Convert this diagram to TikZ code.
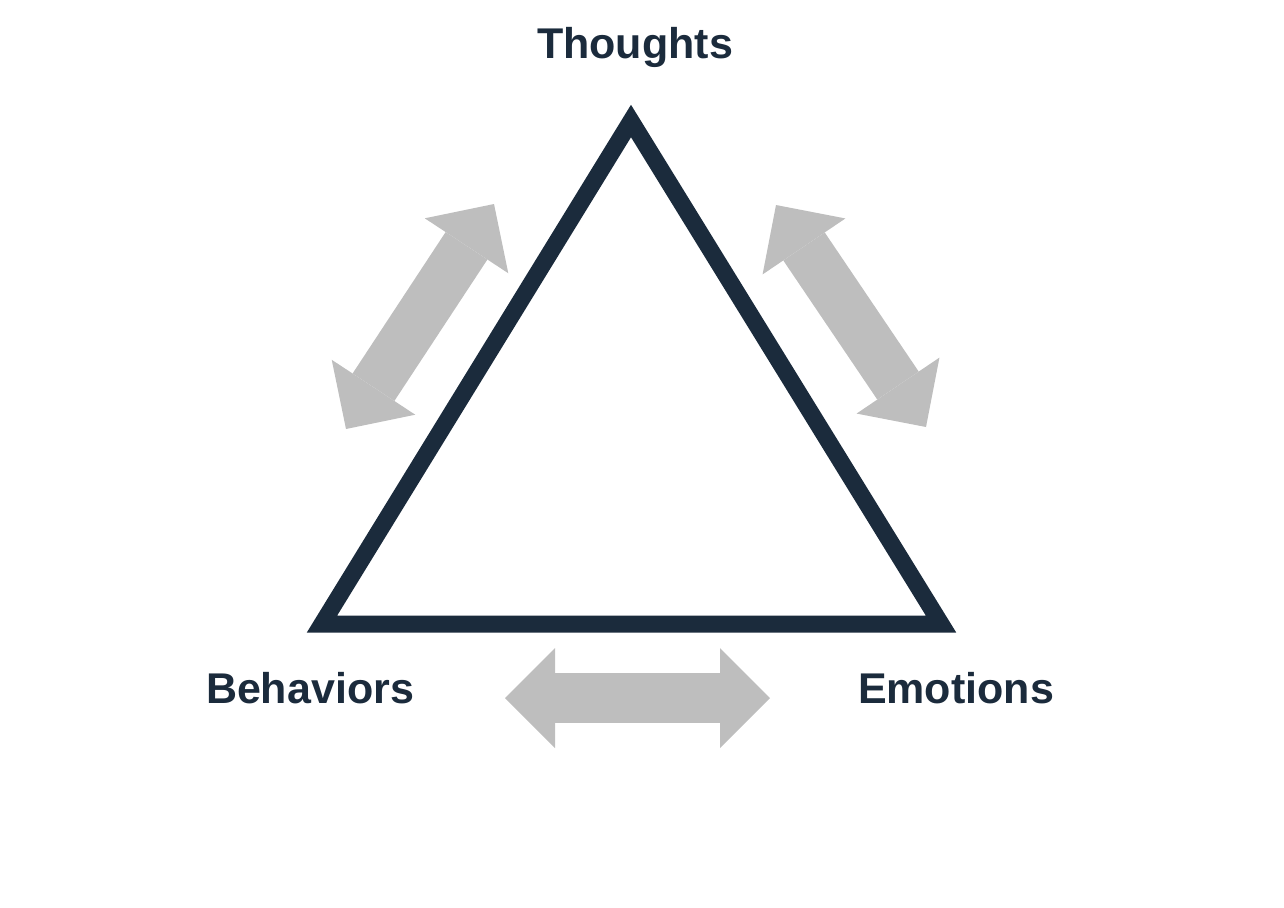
\documentclass[tikz,border=0pt]{standalone}
\usepackage{fontspec}
\setmainfont{Liberation Sans}
\usetikzlibrary{arrows.meta}
\definecolor{navy}{HTML}{1B2B3C}
\definecolor{arrowgray}{HTML}{BEBEBE}
\begin{document}
\begin{tikzpicture} [x = 0.5pt, y = -0.5pt,
	label/.style = {text = navy, font = \fontsize{21.5pt}{24pt}\selectfont\bfseries},
	triangle/.style = {draw = navy, line width = 8.5pt, line join = miter},
	both/.style = {draw = arrowgray, line width = 25pt,
		{Triangle[length = 25pt, width = 50pt, line width = 0pt, fill = arrowgray]}-{Triangle[length = 25pt, width = 50pt, line width = 0pt, fill = arrowgray]}}]
	\useasboundingbox (0,0) rectangle (1284,907);
	\node [label] (thoughts) at (635,47) {Thoughts};
	\node [label] (behaviors) at (310,688) {Behaviors};
	\node [label] (emotions) at (956,688) {Emotions};
	\coordinate (apex) at (631,121);
	\coordinate (left) at (322,624);
	\coordinate (right) at (941,624);
	\draw [triangle] (apex) -- (right) -- (left) -- cycle;
	%\draw [red] (apex) circle (3);
	\coordinate (tb1) at (494,204);
	\coordinate (tb2) at (346,429);
	\coordinate (te1) at (776,205);
	\coordinate (te2) at (926,427);
	\coordinate (be1) at (505,698);
	\coordinate (be2) at (770,698);
	\draw [both] (tb2) -- (tb1);
	\draw [both] (te1) -- (te2);
	\draw [both] (be1) -- (be2);
\end{tikzpicture}
\end{document}
